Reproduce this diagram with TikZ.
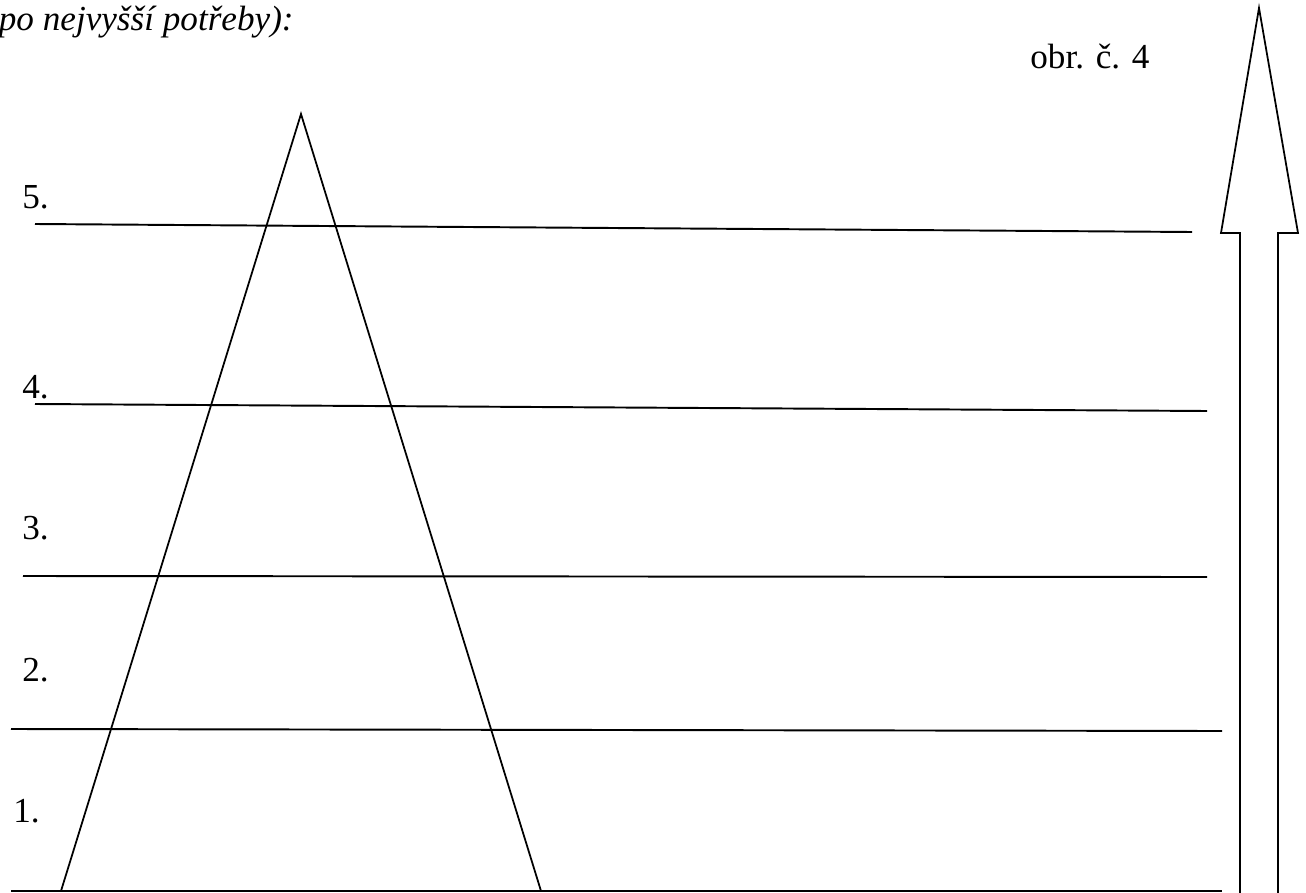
\documentclass[tikz,border=0pt]{standalone}
\usepackage{fontspec}
\newfontfamily\tnr{LiberationSerif}[Extension=.ttf,UprightFont=*-Regular,ItalicFont=*-Italic]
\begin{document}
\begin{tikzpicture}[x=0.2mm,y=-0.2mm,
  ln/.style={line width=1.1pt,line cap=butt},
  tri/.style={line width=1pt,line join=miter},
  lbl/.style={inner sep=0pt,anchor=base west,font=\tnr\fontsize{20}{24}\selectfont},
  ttl/.style={inner sep=0pt,anchor=base east,font=\tnr\fontsize{20}{24}\selectfont\itshape}]
\useasboundingbox (0,0) rectangle (1306,893);
% title and figure label
\node[ttl] (title) at (294,30) {po nejvyšší potřeby):};
\node[lbl] (obr) at (1030,68) {obr. č. 4};
% level labels
\node[lbl] (l5) at (22,208) {5.};
\node[lbl] (l4) at (22,398) {4.};
\node[lbl] (l3) at (22,539) {3.};
\node[lbl] (l2) at (22,681) {2.};
\node[lbl] (l1) at (13,822) {1.};
% horizontal lines
\coordinate (a5) at (35,224);  \coordinate (b5) at (1192,232);
\coordinate (a4) at (35,404);  \coordinate (b4) at (1207,411);
\coordinate (a3) at (23,576);  \coordinate (b3) at (1207,577);
\coordinate (a2) at (11,729);  \coordinate (b2) at (1222,731);
\coordinate (a1) at (11,891);  \coordinate (b1) at (1222,891);
\foreach \i in {1,...,5} \draw[ln] (a\i) -- (b\i);
% pyramid
\coordinate (apex) at (301,114);
\coordinate (bl) at (61,891);
\coordinate (br) at (541,891);
\draw[tri] (bl) -- (apex) -- (br);
% upward arrow (open at the bottom)
\coordinate (sl) at (1240,900);
\coordinate (slt) at (1240,233);
\coordinate (hl) at (1221,233);
\coordinate (tip) at (1259,8);
\coordinate (hr) at (1298,233);
\coordinate (srt) at (1278,233);
\coordinate (sr) at (1278,900);
\draw[tri] (sl) -- (slt) -- (hl) -- (tip) -- (hr) -- (srt) -- (sr);
\end{tikzpicture}
\end{document}
